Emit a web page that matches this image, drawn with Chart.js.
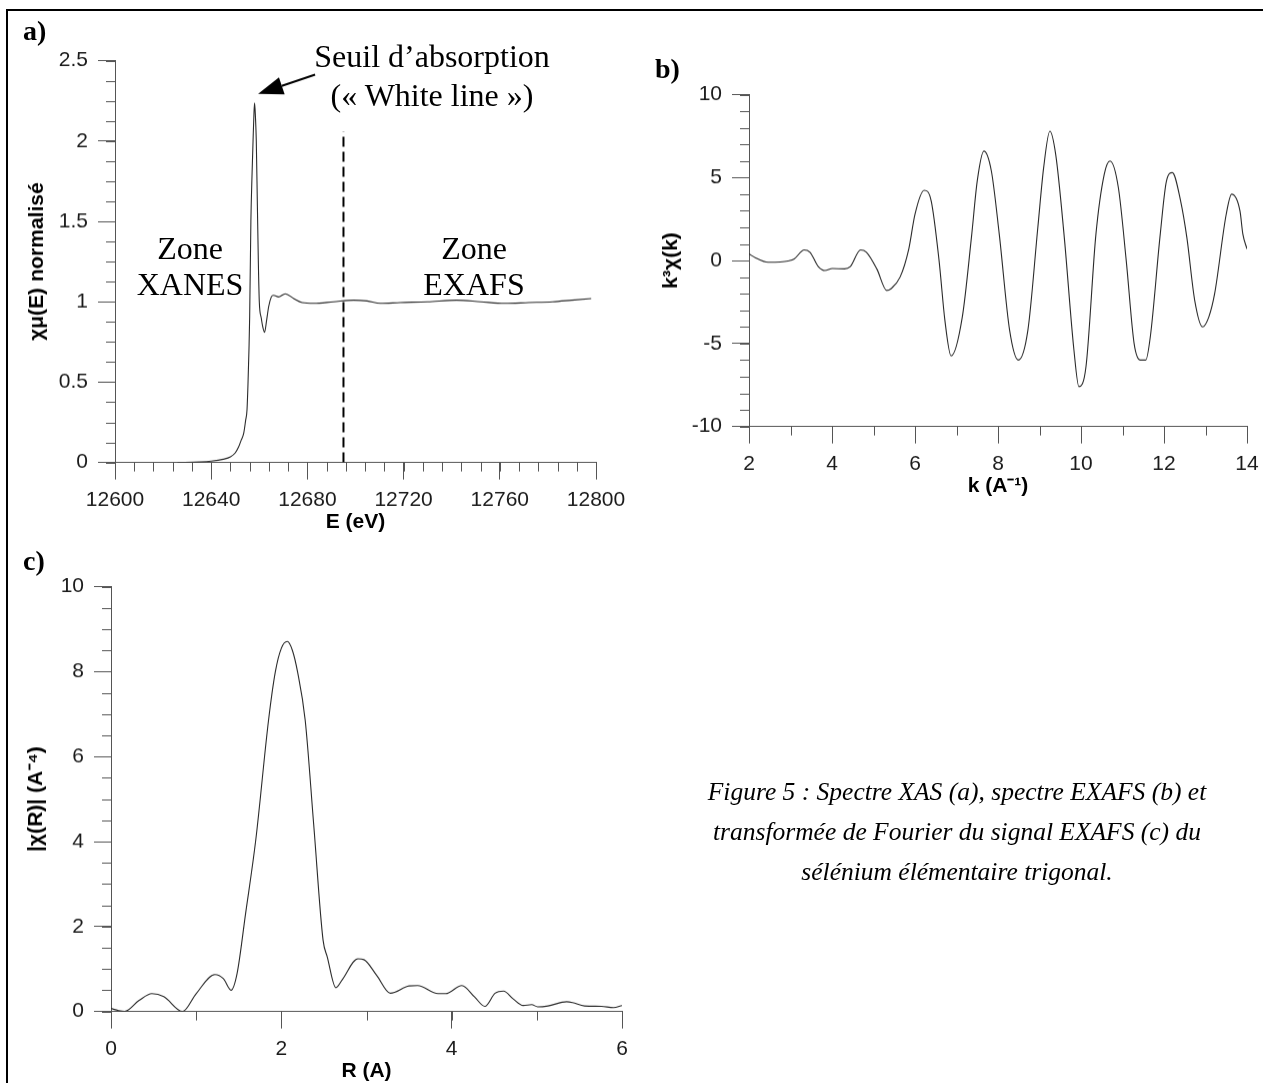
<!DOCTYPE html>
<html lang="fr">
<head>
<meta charset="utf-8">
<title>Figure 5 - Spectres XAS / EXAFS du sélénium</title>
<script src="https://cdn.jsdelivr.net/npm/chart.js@4.4.1/dist/chart.umd.min.js"></script>
<style>
    html, body {
        margin: 0;
        padding: 0;
        background: #fff;
    }

    body {
        position: relative;
        width: 1263px;
        height: 1083px;
        overflow: hidden;
        font-family: "Liberation Serif", "Times New Roman", serif;
    }

    canvas {
        position: absolute;
    }

    .frame {
        position: absolute;
        left: 6px;
        top: 9px;
        right: -20px;
        bottom: -20px;
        border-top: 2px solid #000;
        border-left: 2px solid #000;
    }

    .tag {
        position: absolute;
        font: bold 28px "Liberation Serif", serif;
        line-height: 28px;
    }

    .note {
        position: absolute;
        width: 300px;
        font-size: 32px;
        line-height: 36px;
        text-align: center;
        white-space: nowrap;
    }

    .caption {
        position: absolute;
        left: 657px;
        top: 772px;
        width: 600px;
        font-size: 25.5px;
        font-style: italic;
        line-height: 40px;
        text-align: center;
    }
</style>
</head>
<body>

<div class="frame"></div>

<canvas id="xasChart" width="600" height="520"></canvas>
<canvas id="exafsChart" width="640" height="440"></canvas>
<canvas id="ftChart" width="640" height="530"></canvas>

<div class="tag" style="left:23px; top:17px;">a)</div>
<div class="tag" style="left:655px; top:55px;">b)</div>
<div class="tag" style="left:23px; top:547px;">c)</div>

<div class="note" style="left:282px; top:37px; line-height:39px;">Seuil d’absorption<br>(« White line »)</div>
<div class="note" style="left:40px; top:230px;">Zone<br>XANES</div>
<div class="note" style="left:324px; top:230px;">Zone<br>EXAFS</div>

<div class="caption">
    Figure 5 : Spectre XAS (a), spectre EXAFS (b) et<br>
    transformée de Fourier du signal EXAFS (c) du<br>
    sélénium élémentaire trigonal.
</div>

<script>

// a) XAS spectrum
const xasEnergy = [
    12626, 12635, 12640, 12645, 12648, 12650, 12651.4, 12652.5, 12653.5,
    12654.3, 12654.9, 12655.3, 12655.7, 12656, 12656.5, 12657, 12657.4,
    12657.8, 12658.05, 12658.4, 12658.75, 12659.2, 12659.6, 12660, 12660.8,
    12661.5, 12662.2, 12663, 12663.9, 12665, 12665.9, 12668, 12670.8,
    12674.3, 12677.8, 12682.6, 12690.9, 12699.2, 12704.8, 12710.3, 12718.6,
    12730, 12742, 12752, 12762, 12772, 12782, 12790, 12798
];

const xasMu = [
    0, 0.003, 0.008, 0.02, 0.035, 0.06, 0.097, 0.14, 0.18,
    0.26, 0.33, 0.49, 0.7, 0.91, 1.5, 1.8, 2.0,
    2.18, 2.237, 2.15, 2.0, 1.6, 1.25, 1.0, 0.9,
    0.84, 0.81, 0.88, 0.97, 1.03, 1.04, 1.03, 1.05,
    1.02, 0.995, 0.99, 1.0, 1.01, 1.005, 0.99, 0.995,
    1.0, 1.01, 1.0, 0.99, 0.995, 1.0, 1.01, 1.02
];

const xasTicksE = [12600, 12640, 12680, 12720, 12760, 12800];
const xasTicksMu = [0, 0.5, 1, 1.5, 2, 2.5];

// limit XANES / EXAFS and the arrow towards the white line
const xasLimitE = [12695, 12695];
const xasLimitMu = [0, 2.06];
const xasArrowE = [12683.2, 12659.5];
const xasArrowMu = [2.413, 2.294];

// b) EXAFS k3 chi(k)
const exafsK = [
    2, 2.16, 2.46, 2.75, 2.94, 3.09, 3.33, 3.47, 3.67, 3.83, 4.01, 4.3,
    4.44, 4.69, 4.83, 5.08, 5.32, 5.42, 5.64, 5.85, 6.0, 6.22, 6.39, 6.58,
    6.72, 6.87, 7.14, 7.36, 7.5, 7.66, 7.84, 8.03, 8.28, 8.49, 8.72, 8.96,
    9.1, 9.25, 9.39, 9.59, 9.83, 9.95, 10.12, 10.36, 10.56, 10.7, 10.9, 11.09,
    11.28, 11.43, 11.56, 11.67, 11.91, 12.06, 12.2, 12.4, 12.55, 12.74, 12.93, 13.08,
    13.22, 13.5, 13.63, 13.83, 13.9, 14.0
];

const exafsChi = [
    0.4, 0.16, -0.1, -0.08, -0.02, 0.1, 0.64, 0.5, -0.36, -0.6, -0.48, -0.5,
    -0.36, 0.64, 0.5, -0.5, -1.8, -1.7, -1.0, 0.7, 2.8, 4.24, 3.6, 0,
    -3.6, -5.75, -3.4, 1.4, 4.8, 6.6, 5.4, 1.6, -4.2, -6.0, -4.2, 2.0,
    5.6, 7.8, 6.4, 1.6, -5.4, -7.6, -6.4, 1.6, 5.2, 6.0, 4.4, 0,
    -5.0, -6.0, -6.0, -4.6, 1.6, 4.8, 5.3, 3.6, 1.4, -2.4, -4.0, -3.4,
    -2.0, 2.8, 4.0, 3.0, 1.6, 0.7
];

const exafsTicksK = [2, 4, 6, 8, 10, 12, 14];
const exafsTicksChi = [-10, -5, 0, 5, 10];

// c) Fourier transform |chi(R)|
const ftR = [
    0, 0.09, 0.16, 0.33, 0.48, 0.62, 0.84, 1.0, 1.22, 1.32, 1.41, 1.48,
    1.58, 1.7, 1.85, 1.93, 2.0, 2.07, 2.13, 2.19, 2.28, 2.38, 2.49, 2.54,
    2.64, 2.71, 2.9, 2.97, 3.12, 3.28, 3.5, 3.6, 3.84, 3.93, 4.12, 4.27,
    4.39, 4.51, 4.61, 4.72, 4.84, 4.94, 5.01, 5.13, 5.35, 5.42, 5.56, 5.76,
    5.9, 6.0
];

const ftMag = [
    0.07, 0.02, 0, 0.26, 0.42, 0.35, 0.0, 0.42, 0.87, 0.77, 0.5, 0.89,
    2.3, 4.04, 6.86, 8.0, 8.55, 8.71, 8.5, 8.0, 6.86, 4.4, 1.68, 1.28,
    0.56, 0.73, 1.24, 1.22, 0.85, 0.43, 0.6, 0.61, 0.42, 0.42, 0.61, 0.34,
    0.12, 0.43, 0.48, 0.3, 0.14, 0.16, 0.11, 0.13, 0.23, 0.21, 0.13, 0.12,
    0.09, 0.14
];

const ftTicksR = [0, 2, 4, 6];
const ftTicksMag = [0, 2, 4, 6, 8, 10];


const AXIS_COLOR = "#555";
const LINE_COLOR = "#2a2a2a";
const SANS = "'Liberation Sans', Arial, sans-serif";
const TICK_FONT = { family: SANS, size: 21 };
const TITLE_FONT = { family: SANS, size: 21, weight: "bold" };
const PAD = { top: 20, right: 40, bottom: 4, left: 4 };


function toPoints(xs, ys) {
    return xs.map((x, i) => ({ x: x, y: ys[i] }));
}

// Chart.js has no minor ticks, they are drawn from the scales here
const minorTickPlugin = {
    id: "minorTicks",
    afterDraw(chart, args, opts) {
        const ctx = chart.ctx;
        ctx.save();
        ctx.strokeStyle = AXIS_COLOR;
        ctx.lineWidth = 1;

        ["x", "y"].forEach(id => {
            const step = opts[id];
            const scale = chart.scales[id];
            if (!step || !scale) {
                return;
            }
            const count = Math.round((scale.max - scale.min) / step);
            for (let i = 0; i <= count; i++) {
                const p = Math.round(
                    scale.getPixelForValue(scale.min + i * step)
                ) + 0.5;
                ctx.beginPath();
                if (id === "x") {
                    ctx.moveTo(p, scale.top);
                    ctx.lineTo(p, scale.top + opts.length);
                } else {
                    ctx.moveTo(scale.right, p);
                    ctx.lineTo(scale.right - opts.length, p);
                }
                ctx.stroke();
            }
        });

        ctx.restore();
    }
};

Chart.register(minorTickPlugin);

// arrow pointing at the white line (panel a)
const arrowPlugin = {
    id: "whiteLineArrow",
    afterDatasetsDraw(chart) {
        const xs = chart.scales.x;
        const ys = chart.scales.y;
        const x0 = xs.getPixelForValue(xasArrowE[0]);
        const y0 = ys.getPixelForValue(xasArrowMu[0]);
        const x1 = xs.getPixelForValue(xasArrowE[1]);
        const y1 = ys.getPixelForValue(xasArrowMu[1]);
        const len = Math.hypot(x1 - x0, y1 - y0);
        const ux = (x1 - x0) / len;
        const uy = (y1 - y0) / len;
        const head = 25;
        const half = 9;
        const bx = x1 - ux * head;
        const by = y1 - uy * head;
        const ctx = chart.ctx;

        ctx.save();
        ctx.strokeStyle = "#000";
        ctx.fillStyle = "#000";
        ctx.lineWidth = 2;
        ctx.beginPath();
        ctx.moveTo(x0, y0);
        ctx.lineTo(bx, by);
        ctx.stroke();
        ctx.beginPath();
        ctx.moveTo(x1, y1);
        ctx.lineTo(bx - uy * half, by + ux * half);
        ctx.lineTo(bx + uy * half, by - ux * half);
        ctx.closePath();
        ctx.fill();
        ctx.restore();
    }
};

function axis(opts) {
    return {
        type: "linear",
        min: opts.ticks[0],
        max: opts.ticks[opts.ticks.length - 1],
        afterBuildTicks: scale => {
            scale.ticks = opts.ticks.map(v => ({ value: v }));
        },
        afterFit: scale => {
            if (opts.vertical) {
                scale.width = opts.size;
            } else {
                scale.height = opts.size;
            }
        },
        border: {
            display: true,
            color: AXIS_COLOR,
            width: 1
        },
        grid: {
            drawOnChartArea: false,
            drawTicks: true,
            tickLength: 17,
            color: AXIS_COLOR,
            lineWidth: 1
        },
        ticks: {
            color: "#1a1a1a",
            font: TICK_FONT,
            padding: opts.vertical ? 10 : 8,
            autoSkip: false,
            maxRotation: 0,
            minRotation: 0,
            callback: value => String(value)
        },
        title: {
            display: true,
            text: opts.title,
            color: "#000",
            font: TITLE_FONT,
            padding: 0
        }
    };
}

function placeChart(chart, area) {
    let ca = chart.chartArea;
    const w = chart.width - (ca.right - ca.left) + (area.right - area.left);
    const h = chart.height - (ca.bottom - ca.top) + (area.bottom - area.top);

    chart.resize(w, h);

    ca = chart.chartArea;
    chart.canvas.style.left = Math.round(area.left - ca.left) + "px";
    chart.canvas.style.top = Math.round(area.top - ca.top) + "px";
}

function makePanel(canvasId, area, datasets, scales, minor, plugins) {
    const chart = new Chart(
        document.getElementById(canvasId),
        {
            type: "line",
            data: { datasets: datasets },
            options: {
                responsive: false,
                maintainAspectRatio: false,
                animation: false,
                events: [],
                layout: { padding: PAD },
                scales: scales,
                plugins: {
                    legend: { display: false },
                    tooltip: { enabled: false },
                    minorTicks: minor
                }
            },
            plugins: plugins || []
        }
    );

    placeChart(chart, area);
    return chart;
}

function curve(xs, ys) {
    return {
        data: toPoints(xs, ys),
        borderColor: LINE_COLOR,
        borderWidth: 1.1,
        pointRadius: 0,
        fill: false,
        cubicInterpolationMode: "monotone"
    };
}


makePanel(
    "xasChart",
    { left: 115, right: 596, top: 61, bottom: 462 },
    [
        curve(xasEnergy, xasMu),
        {
            data: toPoints(xasLimitE, xasLimitMu),
            borderColor: "#000",
            borderWidth: 2,
            borderDash: [10, 5],
            pointRadius: 0,
            fill: false
        }
    ],
    {
        x: axis({ ticks: xasTicksE, size: 72, title: "E (eV)" }),
        y: axis({ ticks: xasTicksMu, size: 90, vertical: true, title: "χμ(E) normalisé" })
    },
    { x: 8, y: 0.125, length: 9 },
    [arrowPlugin]
);

makePanel(
    "exafsChart",
    { left: 749, right: 1247, top: 95, bottom: 426 },
    [curve(exafsK, exafsChi)],
    {
        x: axis({ ticks: exafsTicksK, size: 72, title: "k (A⁻¹)" }),
        y: axis({ ticks: exafsTicksChi, size: 90, vertical: true, title: "k³χ(k)" })
    },
    { x: 1, y: 1, length: 9 }
);

makePanel(
    "ftChart",
    { left: 111, right: 622, top: 587, bottom: 1011 },
    [curve(ftR, ftMag)],
    {
        x: axis({ ticks: ftTicksR, size: 72, title: "R (A)" }),
        y: axis({ ticks: ftTicksMag, size: 87, vertical: true, title: "|χ(R)| (A⁻⁴)" })
    },
    { x: 1, y: 0.5, length: 9 }
);

</script>
</body>
</html>
